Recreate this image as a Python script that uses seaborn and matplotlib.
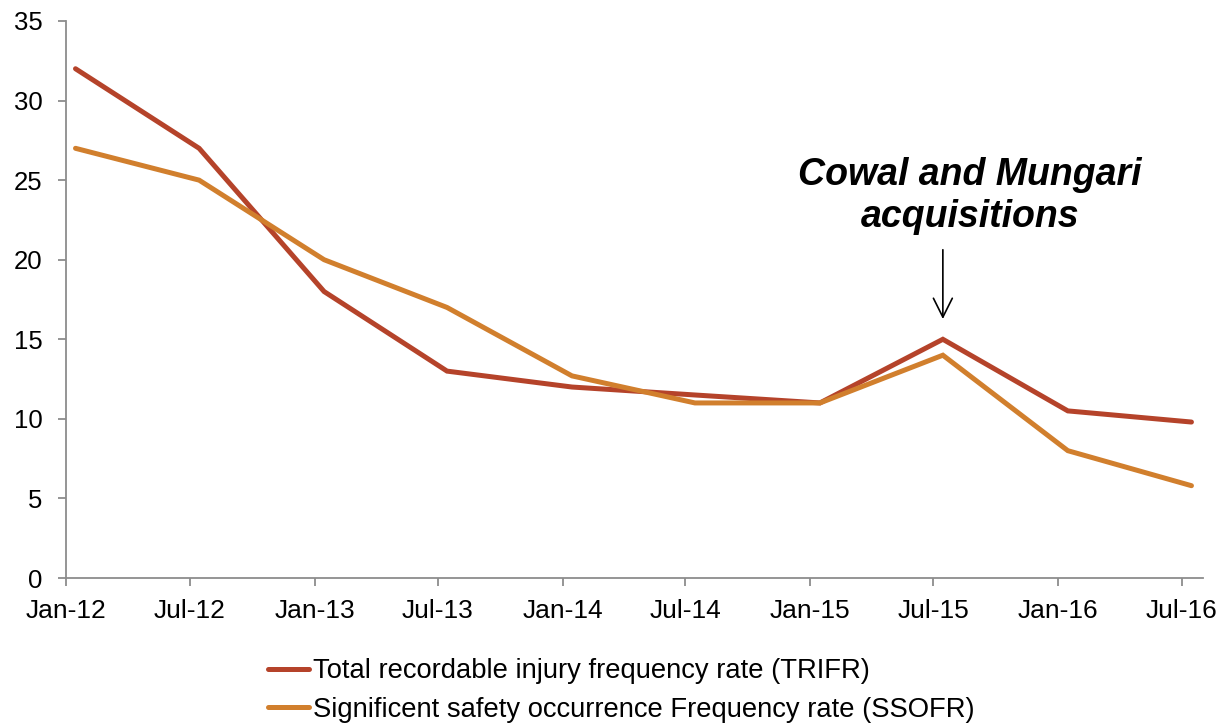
import matplotlib
matplotlib.use("Agg")
import matplotlib.pyplot as plt
import matplotlib.dates as mdates
import numpy as np
import pandas as pd
import seaborn as sns

# Half-yearly safety statistics
periods = ["Jan-12", "Jul-12", "Jan-13", "Jul-13", "Jan-14",
           "Jul-14", "Jan-15", "Jul-15", "Jan-16", "Jul-16"]
trifr = [32.0, 27.0, 18.0, 13.0, 12.0, 11.5, 11.0, 15.0, 10.5, 9.8]
ssofr = [27.0, 25.0, 20.0, 17.0, 12.7, 11.0, 11.0, 14.0, 8.0, 5.8]

series_names = ["Total recordable injury frequency rate (TRIFR)",
                "Significent safety occurrence Frequency rate (SSOFR)"]
series_colors = ["#B5432A", "#D17F2D"]

annotation_text = "Cowal and Mungari\nacquisitions"
annotation_period = "Jul-15"

sns.set_theme(style="white")
plt.rcParams["font.family"] = ["Liberation Sans", "DejaVu Sans"]

# each value is plotted at the middle of its month
month_start = pd.to_datetime(periods, format="%b-%y")
mid_month = month_start + pd.Timedelta(days=14)

df = pd.DataFrame({
    "date": np.concatenate([mid_month, mid_month]),
    "value": trifr + ssofr,
    "series": [series_names[0]] * len(periods) + [series_names[1]] * len(periods),
})

fig = plt.figure(figsize=(12.31, 7.24), dpi=100)
ax = fig.add_axes([66 / 1231, 146 / 724, (1203 - 66) / 1231, (578 - 21) / 724])

sns.lineplot(data=df, x="date", y="value", hue="series",
             palette=dict(zip(series_names, series_colors)),
             linewidth=3.6, ax=ax, legend=False,
             solid_capstyle="round", solid_joinstyle="miter")

ax.set_ylim(0, 35)
ax.set_yticks(np.arange(0, 36, 5))
ax.set_xlim(month_start[0], month_start[-1] + pd.DateOffset(months=1))
ax.set_xticks(month_start)
ax.xaxis.set_major_formatter(mdates.DateFormatter("%b-%y"))
ax.set_xlabel("")
ax.set_ylabel("")

for side in ["top", "right"]:
    ax.spines[side].set_visible(False)
for side in ["left", "bottom"]:
    ax.spines[side].set_color("#8C8C8C")
    ax.spines[side].set_linewidth(1.3)

ax.tick_params(axis="both", which="major", direction="out", length=5.8,
               width=1.3, color="#8C8C8C", labelsize=18.5, labelcolor="black",
               bottom=True, left=True)
ax.tick_params(axis="x", pad=9.5, labelsize=19)
ax.tick_params(axis="y", pad=11)

# annotation marking the acquisitions
idx = periods.index(annotation_period)
peak_date = mid_month[idx]
peak_val = max(trifr[idx], ssofr[idx])
ax.annotate("", xy=(peak_date, peak_val + 1.1), xytext=(peak_date, peak_val + 5.8),
            arrowprops=dict(arrowstyle="->", color="black", lw=1.2,
                            mutation_scale=34))
ax.text(peak_date + pd.Timedelta(days=40), peak_val + 9.0, annotation_text,
        ha="center", va="center", fontsize=27, fontweight="bold",
        fontstyle="italic", linespacing=1.23, color="black")

handles = [plt.Line2D([], [], color=c, linewidth=3.6, solid_capstyle="round")
           for c in series_colors]
leg = fig.legend(handles, series_names, loc="center", bbox_to_anchor=(0.5045, 0.046),
                 ncol=1, frameon=False, fontsize=19.7, handlelength=1.5,
                 handletextpad=0.15, labelspacing=0.46, borderaxespad=0)
for t in leg.get_texts():
    t.set_color("black")

fig.savefig("out.png", dpi=100)
